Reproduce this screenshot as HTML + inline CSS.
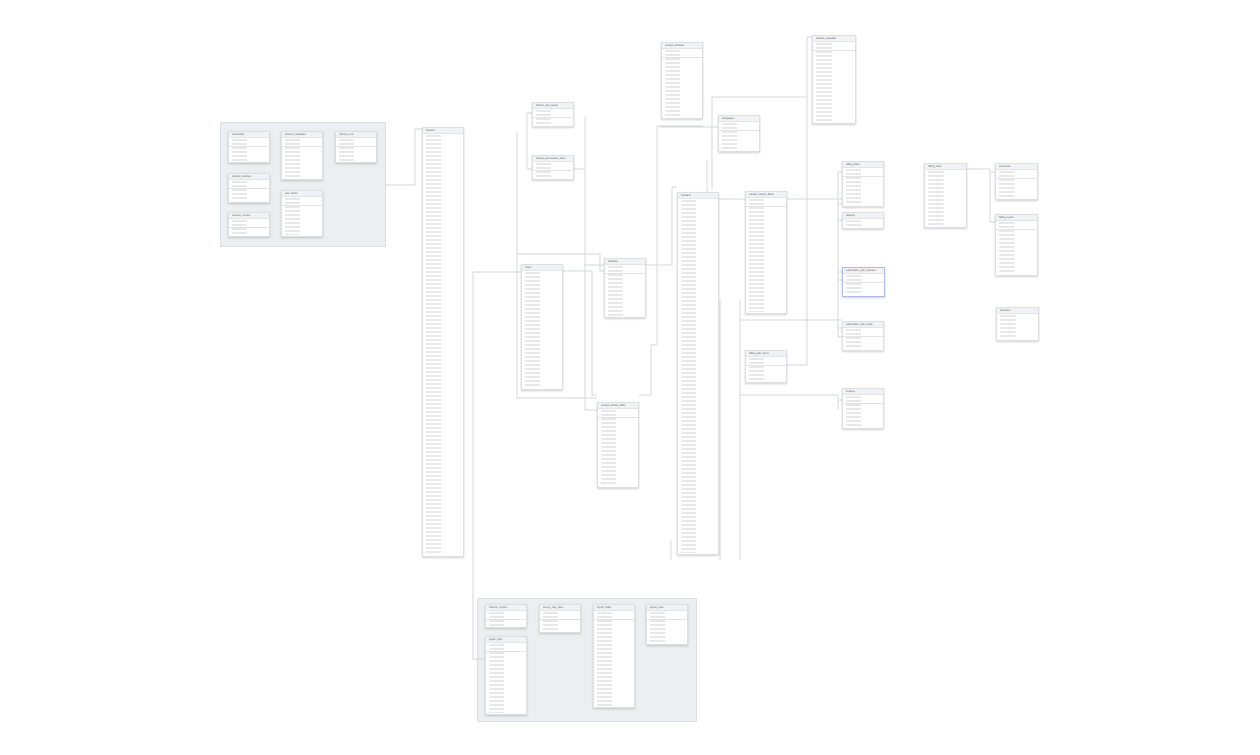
<!DOCTYPE html>
<html><head><meta charset="utf-8"><style>
body{margin:0;width:1260px;height:755px;background:#fff;position:relative;overflow:hidden;font-family:"Liberation Sans",sans-serif}
.g{position:absolute;background:#eceef2;border:1px solid #dcdfe5}
.t{position:absolute;background:#fff;border:1px solid #dedfe3;box-shadow:0 1px 2px rgba(0,0,0,.18);box-sizing:border-box;overflow:hidden}
.t .h{height:5px;background:#f1f2f5;border-bottom:1px solid #e3e4e8;font-size:2.5px;line-height:5px;padding-left:3px;color:#666;white-space:nowrap}
.t .b{position:absolute;left:3px;right:12px;top:6px;bottom:1px;background:repeating-linear-gradient(to bottom,transparent 0,transparent 1.5px,#d0d1d5 1.5px,#d0d1d5 2.3px,transparent 2.3px,transparent 4px);background-size:60% 100%;background-repeat:no-repeat}
.t .k{position:absolute;left:0;right:0;top:14px;height:1px;background:#e3e4e8}
.sel{border-color:#a9bde8}
svg{position:absolute;left:0;top:0}
</style></head><body>
<div class="g" style="left:220px;top:122px;width:164px;height:123px"></div>
<div class="g" style="left:477px;top:598px;width:218px;height:122px"></div>
<svg width="1260" height="755"><g fill="none" stroke="#d6d7db" stroke-width="1">
<path d="M385 185H415V129H422"/>
<path d="M517 132V398H597M517 254H600V271H604"/>
<path d="M473 272V659H485M473 272H521"/>
<path d="M527 113H532M527 113V169H532"/>
<path d="M585 117V410H597M574 169H585M585 265H604"/>
<path d="M592 271V395H597M563 271H592"/>
<path d="M657 126V345H651V395H639M657 126H703"/>
<path d="M660 127H718"/>
<path d="M672 187V265H646M672 187H677"/>
<path d="M719 199H745M712 97V190M712 97H807M807 37H812M807 37V190"/>
<path d="M787 199H842M838 172V337M838 172H842M838 204H842M838 220H842M838 272H842M838 280H842M838 328H842M838 337H842"/>
<path d="M740 320H842M740 300V560"/>
<path d="M720 300V560M707 160V300"/>
<path d="M787 365H807V150"/>
<path d="M740 395H838V400H842M838 395V410"/>
<path d="M671 540V560"/>
<path d="M967 169H990V222H995M990 172H995"/>
</g></svg>
<div class="t" style="left:228px;top:131px;width:42px;height:32px"><div class="h">credentials</div><div class="k"></div><div class="b"></div></div>
<div class="t" style="left:228px;top:173px;width:42px;height:30px"><div class="h">channel_settings</div><div class="k"></div><div class="b"></div></div>
<div class="t" style="left:228px;top:212px;width:42px;height:25px"><div class="h">channel_secrets</div><div class="k"></div><div class="b"></div></div>
<div class="t" style="left:281px;top:131px;width:42px;height:49px"><div class="h">channel_templates</div><div class="k"></div><div class="b"></div></div>
<div class="t" style="left:281px;top:190px;width:42px;height:47px"><div class="h">web_hooks</div><div class="k"></div><div class="b"></div></div>
<div class="t" style="left:335px;top:131px;width:42px;height:32px"><div class="h">channel_sms</div><div class="k"></div><div class="b"></div></div>
<div class="t" style="left:422px;top:127px;width:42px;height:430px"><div class="h">Tenants</div><div class="b"></div></div>
<div class="t" style="left:485px;top:604px;width:42px;height:24px"><div class="h">channel_imports</div><div class="k"></div><div class="b"></div></div>
<div class="t" style="left:485px;top:636px;width:42px;height:79px"><div class="h">project_files</div><div class="k"></div><div class="b"></div></div>
<div class="t" style="left:539px;top:604px;width:42px;height:29px"><div class="h">survey_rate_plans</div><div class="k"></div><div class="b"></div></div>
<div class="t" style="left:593px;top:604px;width:42px;height:104px"><div class="h">import_fields</div><div class="k"></div><div class="b"></div></div>
<div class="t" style="left:646px;top:604px;width:42px;height:41px"><div class="h">import_rows</div><div class="k"></div><div class="b"></div></div>
<div class="t" style="left:532px;top:102px;width:42px;height:25px"><div class="h">activity_user_teams</div><div class="k"></div><div class="b"></div></div>
<div class="t" style="left:532px;top:155px;width:42px;height:25px"><div class="h">activity_permissions_team</div><div class="k"></div><div class="b"></div></div>
<div class="t" style="left:521px;top:264px;width:42px;height:126px"><div class="h">Users</div><div class="b"></div></div>
<div class="t" style="left:604px;top:258px;width:42px;height:60px"><div class="h">Activities</div><div class="k"></div><div class="b"></div></div>
<div class="t" style="left:597px;top:402px;width:42px;height:86px"><div class="h">contact_activity_fields</div><div class="k"></div><div class="b"></div></div>
<div class="t" style="left:661px;top:42px;width:42px;height:77px"><div class="h">contact_activities</div><div class="k"></div><div class="b"></div></div>
<div class="t" style="left:718px;top:115px;width:42px;height:37px"><div class="h">campaigns</div><div class="k"></div><div class="b"></div></div>
<div class="t" style="left:677px;top:192px;width:42px;height:363px"><div class="h">Contacts</div><div class="b"></div></div>
<div class="t" style="left:745px;top:191px;width:42px;height:123px"><div class="h">contact_custom_fields</div><div class="k"></div><div class="b"></div></div>
<div class="t" style="left:745px;top:350px;width:42px;height:33px"><div class="h">billing_plan_items</div><div class="k"></div><div class="b"></div></div>
<div class="t" style="left:812px;top:35px;width:44px;height:89px"><div class="h">contact_metadata</div><div class="k"></div><div class="b"></div></div>
<div class="t" style="left:842px;top:161px;width:42px;height:46px"><div class="h">billing_plans</div><div class="k"></div><div class="b"></div></div>
<div class="t" style="left:842px;top:212px;width:42px;height:17px"><div class="h">features</div><div class="b"></div></div>
<div class="t sel" style="left:842px;top:267px;width:43px;height:30px"><div class="h">subscription_plan_features</div><div class="k"></div><div class="b"></div></div>
<div class="t" style="left:842px;top:321px;width:42px;height:30px"><div class="h">subscription_plan_limits</div><div class="k"></div><div class="b"></div></div>
<div class="t" style="left:842px;top:388px;width:42px;height:41px"><div class="h">invoices</div><div class="k"></div><div class="b"></div></div>
<div class="t" style="left:924px;top:163px;width:43px;height:65px"><div class="h">billing_rates</div><div class="b"></div></div>
<div class="t" style="left:995px;top:163px;width:43px;height:37px"><div class="h">currencies</div><div class="k"></div><div class="b"></div></div>
<div class="t" style="left:995px;top:214px;width:43px;height:62px"><div class="h">billing_cycles</div><div class="k"></div><div class="b"></div></div>
<div class="t" style="left:996px;top:307px;width:43px;height:34px"><div class="h">countries</div><div class="b"></div></div>
</body></html>
